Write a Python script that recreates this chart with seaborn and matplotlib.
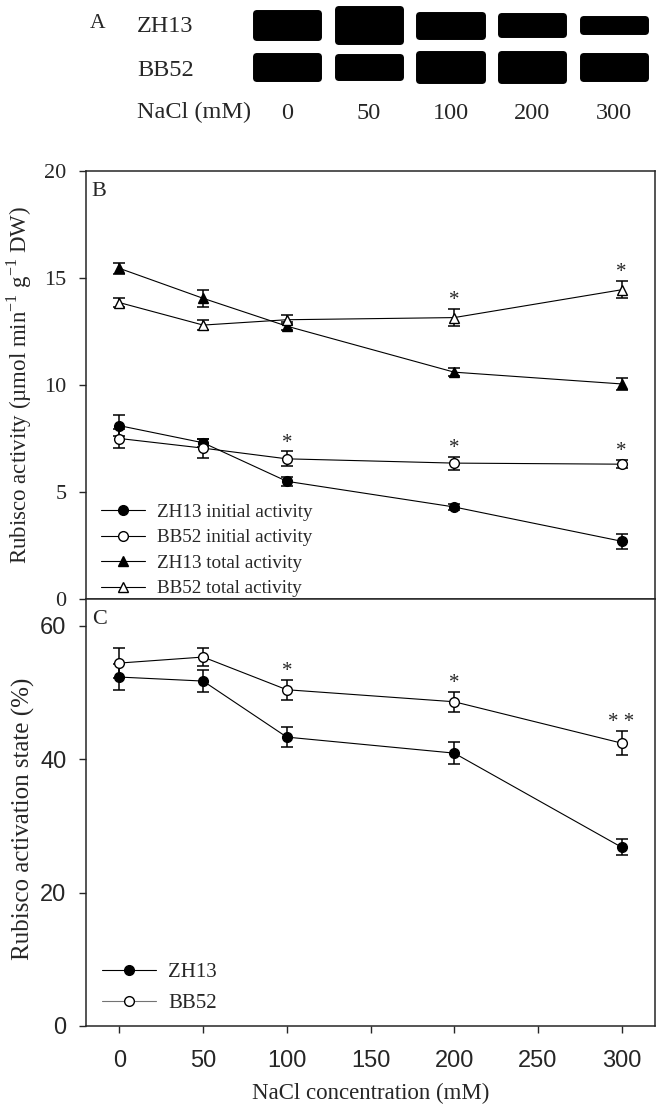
import numpy as np
import pandas as pd
import seaborn as sns
import matplotlib.pyplot as plt

# NaCl treatments (mM)
nacl = [0, 50, 100, 200, 300]
nacl_labels = ['0', '50', '100', '200', '300']

# B: Rubisco activity (umol min-1 g-1 DW), mean and SE
zh13_init = [8.1, 7.3, 5.5, 4.3, 2.7]
zh13_init_se = [0.5, 0.2, 0.2, 0.15, 0.35]
bb52_init = [7.5, 7.05, 6.55, 6.35, 6.3]
bb52_init_se = [0.45, 0.45, 0.35, 0.3, 0.2]
zh13_total = [15.45, 14.05, 12.75, 10.6, 10.05]
zh13_total_se = [0.25, 0.4, 0.2, 0.2, 0.3]
bb52_total = [13.85, 12.8, 13.05, 13.15, 14.45]
bb52_total_se = [0.2, 0.25, 0.2, 0.4, 0.4]
sig_init = ['', '', '*', '*', '*']
sig_total = ['', '', '', '*', '*']

# C: Rubisco activation state (%)
zh13_act = [52.3, 51.7, 43.3, 40.9, 26.8]
zh13_act_se = [2.0, 1.6, 1.5, 1.7, 1.2]
bb52_act = [54.4, 55.3, 50.4, 48.6, 42.4]
bb52_act_se = [2.2, 1.3, 1.5, 1.5, 1.8]
sig_act = ['', '', '*', '*', '* *']

# A: relative band thickness on the blot
band_zh13 = [0.58, 0.76, 0.50, 0.42, 0.27]
band_bb52 = [0.54, 0.46, 0.64, 0.60, 0.54]

sns.set_style('ticks')
plt.rcParams['font.family'] = ['Liberation Serif', 'DejaVu Serif']
plt.rcParams['mathtext.fontset'] = 'custom'
plt.rcParams['mathtext.rm'] = 'Liberation Serif'
plt.rcParams['axes.linewidth'] = 1.1

SERIF = 'Liberation Serif'
SANS = 'Liberation Sans'

W, H = 663, 1109
fig = plt.figure(figsize=(W / 100, H / 100), dpi=100)


def px_box(left, top, right, bottom):
    return [left / W, 1 - bottom / H, (right - left) / W, (bottom - top) / H]


def draw_series(ax, y, se, marker, filled, label, ms):
    df = pd.DataFrame({'nacl': nacl, 'val': y})
    ax.errorbar(nacl, y, yerr=se, fmt='none', ecolor='black', elinewidth=1.1,
                capsize=4.5, capthick=1.1, zorder=2)
    sns.lineplot(data=df, x='nacl', y='val', ax=ax, color='black', lw=0.8,
                 marker=marker, ms=ms, mfc='black' if filled else 'white',
                 mec='black', mew=1.0, label=label, errorbar=None, zorder=3)


def add_stars(ax, y, se, marks, size):
    for xv, yv, e, m in zip(nacl, y, se, marks):
        if m:
            ax.annotate(m, (xv, yv + e), xytext=(0, 6), textcoords='offset points',
                        ha='center', va='center', fontsize=size, family=SERIF)


# ---- A: blot ----
axA = fig.add_axes(px_box(246, 4, 655, 88))
lanes = np.arange(len(nacl))
for row, band in ((1, band_zh13), (0, band_bb52)):
    h = np.array(band)
    axA.bar(lanes, h, bottom=row - h / 2, width=0.76, color='black',
            edgecolor='black', linewidth=5, joinstyle='round')
axA.set_xlim(-0.5, 4.5)
axA.set_ylim(-0.5, 1.5)
axA.set_xticks(lanes)
axA.set_xticklabels(nacl_labels, fontsize=17.5, family=SERIF)
axA.tick_params(axis='x', length=0, pad=11)
axA.set_yticks([])
for s in axA.spines.values():
    s.set_visible(False)
fig.text(98 / W, 1 - 24 / H, 'A', fontsize=15.5, family=SERIF, ha='center', va='center')
fig.text(137 / W, 1 - 27 / H, 'ZH13', fontsize=17.5, family=SERIF, ha='left', va='center')
fig.text(137 / W, 1 - 71 / H, 'BB52', fontsize=17.5, family=SERIF, ha='left', va='center')
fig.text(137 / W, 1 - 112 / H, 'NaCl (mM)', fontsize=17.5, family=SERIF, ha='left', va='center')

# ---- B: Rubisco activity ----
axB = fig.add_axes(px_box(86, 171, 655, 599))
draw_series(axB, zh13_init, zh13_init_se, 'o', True, 'ZH13 initial activity', 7)
draw_series(axB, bb52_init, bb52_init_se, 'o', False, 'BB52 initial activity', 7)
draw_series(axB, zh13_total, zh13_total_se, '^', True, 'ZH13 total activity', 7)
draw_series(axB, bb52_total, bb52_total_se, '^', False, 'BB52 total activity', 7)
add_stars(axB, bb52_init, bb52_init_se, sig_init, 15)
add_stars(axB, bb52_total, bb52_total_se, sig_total, 15)
axB.set_xlim(-20, 320)
axB.set_ylim(0, 20)
axB.set_xticks(range(0, 301, 50))
axB.set_yticks(range(0, 21, 5))
axB.tick_params(axis='x', direction='out', length=5, width=1, labelbottom=False)
axB.tick_params(axis='y', direction='out', length=5, width=1, pad=9, labelsize=16)
for lab in axB.get_yticklabels():
    lab.set_family(SERIF)
axB.set_xlabel('')
axB.set_ylabel('Rubisco activity (µmol min$^{-1}$ g$^{-1}$ DW)', fontsize=16.5, family=SERIF)
axB.yaxis.set_label_coords(-0.092, 0.5)
axB.text(0.01, 0.975, 'B', transform=axB.transAxes, fontsize=16, family=SERIF, va='top')
axB.legend(loc='lower left', bbox_to_anchor=(0.02, -0.005), frameon=False, fontsize=13.8,
           handlelength=2.3, handletextpad=0.6, labelspacing=0.42, borderpad=0.2,
           borderaxespad=0)

# ---- C: activation state ----
axC = fig.add_axes(px_box(86, 599, 655, 1026))
draw_series(axC, zh13_act, zh13_act_se, 'o', True, 'ZH13', 7)
draw_series(axC, bb52_act, bb52_act_se, 'o', False, 'BB52', 7)
add_stars(axC, bb52_act, bb52_act_se, sig_act, 15)
axC.set_xlim(-20, 320)
axC.set_ylim(0, 64)
axC.set_xticks(range(0, 301, 50))
axC.set_yticks([0, 20, 40, 60])
axC.tick_params(direction='out', length=5, width=1, labelsize=17)
axC.tick_params(axis='y', pad=9)
axC.tick_params(axis='x', pad=12)
for lab in axC.get_xticklabels() + axC.get_yticklabels():
    lab.set_family(SANS)
axC.set_xlabel('NaCl concentration (mM)', fontsize=16.5, family=SERIF, labelpad=8)
axC.set_ylabel('Rubisco activation state (%)', fontsize=18, family=SERIF)
axC.yaxis.set_label_coords(-0.09, 0.485)
axC.text(0.01, 0.975, 'C', transform=axC.transAxes, fontsize=16, family=SERIF, va='top')
legC = axC.legend(loc='lower left', bbox_to_anchor=(0.02, 0.02), frameon=False, fontsize=15,
                  handlelength=2.6, handletextpad=0.6, labelspacing=0.55, borderpad=0.2,
                  borderaxespad=0)
legC.get_lines()[1].set_color('0.45')
legC.get_lines()[1].set_markeredgecolor('black')

fig.savefig('out.png', dpi=100)
